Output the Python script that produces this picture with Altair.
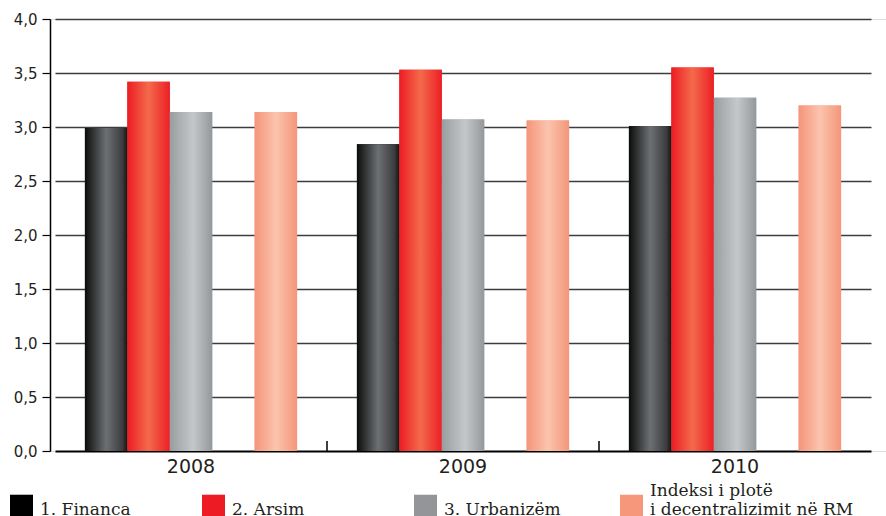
import altair as alt
import pandas as pd

# ---- data ----
years = ["2008", "2009", "2010"]
series = ["1. Financa", "2. Arsim", "3. Urbanizëm", "Indeksi i plotë i decentralizimit në RM"]
financa = [2.99, 2.84, 3.01]
arsim = [3.42, 3.53, 3.55]
urbanizem = [3.14, 3.07, 3.27]
indeksi = [3.14, 3.06, 3.20]
y_ticks = [0, 0.5, 1.0, 1.5, 2.0, 2.5, 3.0, 3.5, 4.0]
tick_years = ["2009", "2010"]

# ---- styles ----
legend_colors = ["#000000", "#ed1c24", "#939598", "#f6977b"]
gradients = [
    [("#0b0b0b", 0), ("#6d7073", 0.5), ("#3c3d3f", 0.88), ("#141414", 1)],
    [("#ec1c24", 0), ("#f36a4b", 0.5), ("#ed1f25", 1)],
    [("#9a9da0", 0), ("#c5c8ca", 0.55), ("#95989b", 1)],
    [("#f4957a", 0), ("#fbc4ad", 0.5), ("#f4967a", 1)],
]
slots = series[:3] + [" "] + series[3:]

values = [financa, arsim, urbanizem, indeksi]
rows = []
for s, vals in zip(series, values):
    for y, v in zip(years, vals):
        rows.append({"year": y, "series": s, "value": v})
df = pd.DataFrame(rows)

ticks_df = pd.DataFrame({"year": tick_years})

W, H = 836, 432
axis_font = "DejaVu Sans"
text_color = "#231f20"
half_gap = 0.22 * 272 / 2

x_scale = alt.Scale(domain=years, range=[5, 821], paddingInner=0.22, paddingOuter=0.11)
xo_scale = alt.Scale(domain=slots, paddingInner=0, paddingOuter=0)
y_scale = alt.Scale(domain=[0, 4], nice=False)

x_enc = alt.X(
    "year:N",
    scale=x_scale,
    axis=alt.Axis(
        title=None, ticks=False, domain=False, labelAngle=0,
        labelFont=axis_font, labelFontSize=19, labelColor=text_color, labelPadding=6,
    ),
)
y_enc = alt.Y(
    "value:Q",
    scale=y_scale,
    axis=alt.Axis(
        title=None, values=y_ticks,
        labelExpr="replace(format(datum.value, '.1f'), '.', ',')",
        labelFont=axis_font, labelFontSize=15, labelColor=text_color, labelPadding=5,
        domain=True, domainColor="#000000", domainWidth=1.5,
        ticks=True, tickSize=8, tickColor="#000000", tickWidth=1.2,
        grid=True,
        gridColor={"condition": {"test": "datum.value === 0", "value": "#000000"}, "value": "#3d3d3d"},
        gridWidth={"condition": {"test": "datum.value === 0", "value": 2}, "value": 1.3},
    ),
)

# two-line labels (empty first line for the short ones); trailing blank
# braille cells only widen the legend columns to match the reference spacing
pad = "\u2800"
label_expr = (
    "datum.label == 'Indeksi i plotë i decentralizimit në RM'"
    " ? ['Indeksi i plotë', 'i decentralizimit në RM']"
    f" : datum.label == '1. Financa' ? ['', datum.label + '{pad * 1}']"
    f" : datum.label == '2. Arsim' ? ['', datum.label + '{pad * 4}']"
    " : ['', datum.label]"
)

base = alt.Chart(df).mark_bar().encode(
    x=x_enc,
    xOffset=alt.XOffset("series:N", scale=xo_scale),
    y=y_enc,
    color=alt.Color(
        "series:N",
        scale=alt.Scale(domain=series, range=legend_colors),
        legend=alt.Legend(
            title=None, orient="none", legendX=-40, legendY=465,
            direction="horizontal", padding=0,
            symbolType="M-1,-0.09L1,-0.09L1,1.91L-1,1.91Z",
            symbolSize=529, symbolStrokeWidth=0, symbolOpacity=1,
            labelFont="DejaVu Serif", labelFontSize=17, labelColor=text_color,
            labelBaseline="alphabetic", labelOffset=7, labelLimit=400,
            columnPadding=59,
            labelExpr=label_expr,
        ),
    ),
)

overlays = []
for s, stops in zip(series, gradients):
    grad = alt.LinearGradient(
        gradient="linear",
        stops=[alt.GradientStop(color=c, offset=o) for c, o in stops],
        x1=0, x2=1, y1=0, y2=0,
    )
    overlays.append(
        alt.Chart(df).transform_filter(alt.datum.series == s).mark_bar(color=grad).encode(
            x=alt.X("year:N", scale=x_scale),
            xOffset=alt.XOffset("series:N", scale=xo_scale),
            y=alt.Y("value:Q", scale=y_scale),
        )
    )

tick_rules = alt.Chart(ticks_df).mark_rule(color="#000000", strokeWidth=1.5, xOffset=-half_gap).encode(
    x=alt.X("year:N", scale=x_scale, bandPosition=0),
    y=alt.value(H),
    y2=alt.value(H - 10),
)

chart = alt.layer(base, *overlays, tick_rules).properties(
    width=W, height=H,
    autosize=alt.AutoSizeParams(type="none"),
    padding={"left": 50, "top": 19, "right": 0, "bottom": 65},
).configure_view(stroke=None).configure(background="white")

chart.save("out.html", embed_options={"renderer": "svg", "actions": False})
